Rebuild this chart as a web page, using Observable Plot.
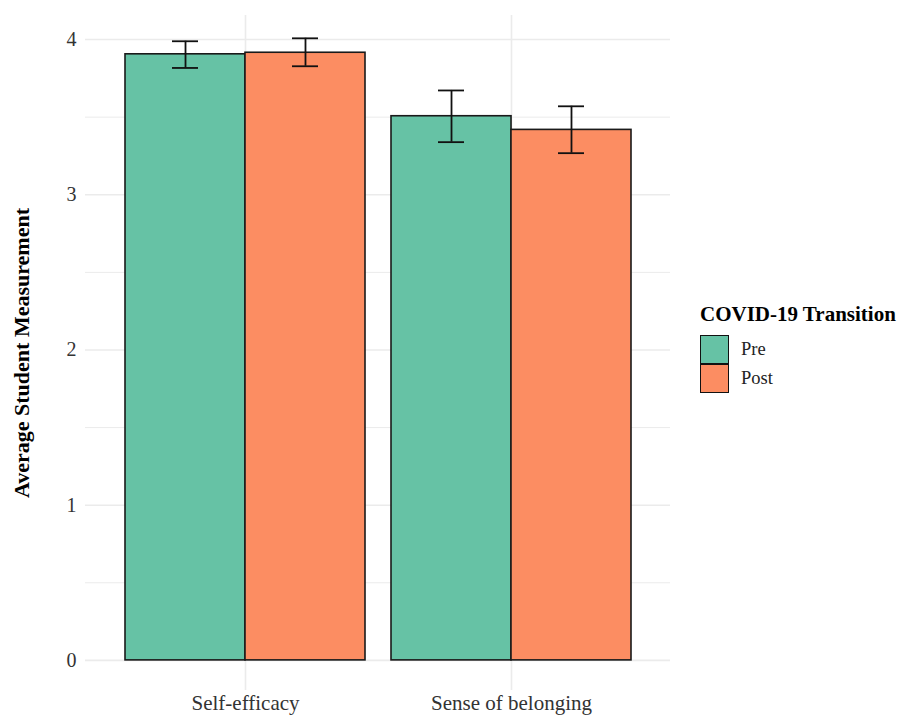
<!DOCTYPE html>
<html>
<head>
<meta charset="utf-8">
<script src="https://cdn.jsdelivr.net/npm/d3@7"></script>
<script src="https://cdn.jsdelivr.net/npm/@observablehq/plot@0.6"></script>
<style>
  body { margin: 0; background: #fff; font-family: "Liberation Serif", "Times New Roman", serif; }
  #wrap { position: relative; width: 899px; height: 717px; }
  #legend { position: absolute; left: 700px; top: 302px; color: #000; }
  #legend .lt { font-size: 21px; font-weight: bold; line-height: 25px; margin-bottom: 8px; white-space: nowrap; }
  #legend .row { display: flex; align-items: center; height: 29px; }
  #legend .sw { width: 29px; height: 29px; box-sizing: border-box; border: 1.5px solid #111; }
  #legend .lab { font-size: 18.5px; margin-left: 12px; color: #222; }
</style>
</head>
<body>
<div id="wrap"><div id="chart"></div><div id="legend"></div></div>
<script>
// ---- data ----
const categories = ["Self-efficacy", "Sense of belonging"];
const groups = ["Pre", "Post"];
const preMean  = [3.905, 3.506];
const preLow   = [3.817, 3.339];
const preHigh  = [3.989, 3.672];
const postMean = [3.915, 3.418];
const postLow  = [3.828, 3.268];
const postHigh = [4.008, 3.570];
const yTicks = [0, 1, 2, 3, 4];
const yMinorTicks = [0.5, 1.5, 2.5, 3.5];
const groupColors = ["#66c2a5", "#fc8d62"];
const legendTitle = "COVID-19 Transition";
const yTitle = "Average Student Measurement";

const preRows = categories.map((c, i) => ({category: c, group: "Pre", mean: preMean[i], low: preLow[i], high: preHigh[i]}));
const postRows = categories.map((c, i) => ({category: c, group: "Post", mean: postMean[i], low: postLow[i], high: postHigh[i]}));

// layout
const W = 690, H = 717, ML = 85, MR = 20, MT = 15, MB = 27;
const xOpts = {type: "band", domain: categories, paddingInner: 0.098, paddingOuter: 0.1485};
const xs = Plot.scale({x: {...xOpts, range: [ML, W - MR]}});
const half = xs.bandwidth / 2;          // width of one dodged bar
const capHalf = 13;                      // half width of error-bar cap
const capIn = half / 2 - capHalf;        // inset to the cap's near side

const grid = "#ebebeb";
const ink = "#111";
const chart = Plot.plot({
  width: W,
  height: H,
  marginLeft: ML,
  marginRight: MR,
  marginTop: MT,
  marginBottom: MB,
  style: {fontFamily: "'Liberation Serif', 'Times New Roman', serif", background: "#fff", overflow: "visible"},
  x: xOpts,
  y: {domain: [-0.194, 4.155]},
  color: {domain: groups, range: groupColors},
  marks: [
    Plot.gridY(yMinorTicks, {stroke: grid, strokeOpacity: 1, strokeWidth: 1}),
    Plot.gridY(yTicks, {stroke: grid, strokeOpacity: 1, strokeWidth: 1.6}),
    Plot.gridX(categories, {stroke: grid, strokeOpacity: 1, strokeWidth: 1.6}),
    Plot.barY(preRows, {x: "category", y: "mean", fill: "group", insetRight: half, stroke: "#1a1a1a", strokeWidth: 1.6}),
    Plot.barY(postRows, {x: "category", y: "mean", fill: "group", insetLeft: half, stroke: "#1a1a1a", strokeWidth: 1.6}),
    Plot.ruleX(preRows, {x: "category", y1: "low", y2: "high", dx: -half / 2, stroke: ink, strokeWidth: 1.8}),
    Plot.ruleX(postRows, {x: "category", y1: "low", y2: "high", dx: half / 2, stroke: ink, strokeWidth: 1.8}),
    Plot.tickY(preRows, {x: "category", y: "low", insetLeft: capIn, insetRight: half + capIn, stroke: ink, strokeWidth: 1.8}),
    Plot.tickY(preRows, {x: "category", y: "high", insetLeft: capIn, insetRight: half + capIn, stroke: ink, strokeWidth: 1.8}),
    Plot.tickY(postRows, {x: "category", y: "low", insetLeft: half + capIn, insetRight: capIn, stroke: ink, strokeWidth: 1.8}),
    Plot.tickY(postRows, {x: "category", y: "high", insetLeft: half + capIn, insetRight: capIn, stroke: ink, strokeWidth: 1.8}),
    Plot.axisY(yTicks, {tickSize: 0, tickPadding: 9, fontSize: 20, label: null, color: "#333", tickFormat: d3.format("d")}),
    Plot.axisX({tickSize: 0, tickPadding: 5, fontSize: 21, label: null, color: "#333"}),
    Plot.text([yTitle], {frameAnchor: "left", rotate: -90, dx: -64, textAnchor: "middle", fontSize: 22, fontWeight: "bold", fill: "#000"})
  ]
});
document.getElementById("chart").appendChild(chart);

// legend
const lg = document.getElementById("legend");
const t = document.createElement("div");
t.className = "lt";
t.textContent = legendTitle;
lg.appendChild(t);
groups.forEach((g, i) => {
  const r = document.createElement("div");
  r.className = "row";
  const s = document.createElement("div");
  s.className = "sw";
  s.style.background = groupColors[i];
  const l = document.createElement("span");
  l.className = "lab";
  l.textContent = g;
  r.appendChild(s);
  r.appendChild(l);
  lg.appendChild(r);
});
</script>
</body>
</html>
